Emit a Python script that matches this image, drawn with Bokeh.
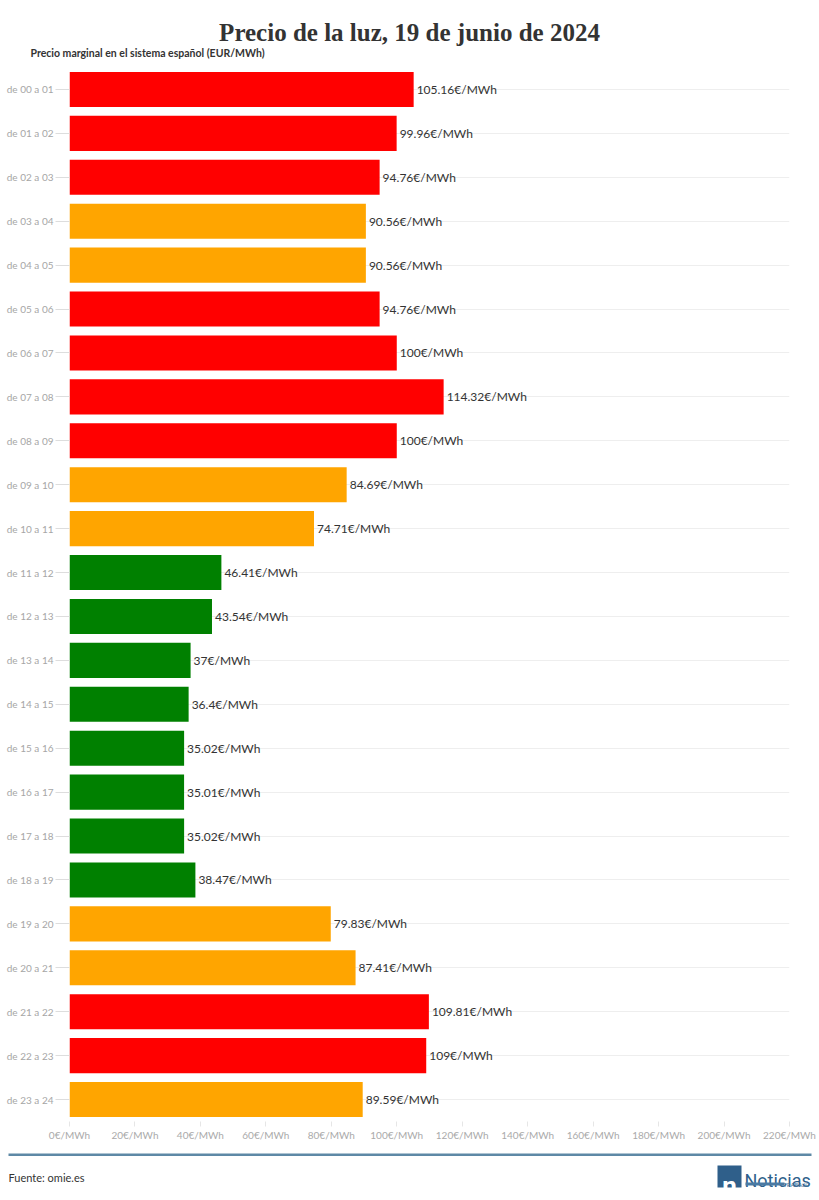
from bokeh.plotting import figure
from bokeh.models import ColumnDataSource, Range1d, FactorRange, FixedTicker, Label, Span, BoxAnnotation
from bokeh.layouts import column
from bokeh.embed import file_html
from bokeh.resources import INLINE
from bokeh.core.properties import value

# ---- data ----
hours = ["de 00 a 01", "de 01 a 02", "de 02 a 03", "de 03 a 04", "de 04 a 05", "de 05 a 06",
         "de 06 a 07", "de 07 a 08", "de 08 a 09", "de 09 a 10", "de 10 a 11", "de 11 a 12",
         "de 12 a 13", "de 13 a 14", "de 14 a 15", "de 15 a 16", "de 16 a 17", "de 17 a 18",
         "de 18 a 19", "de 19 a 20", "de 20 a 21", "de 21 a 22", "de 22 a 23", "de 23 a 24"]
prices = [105.16, 99.96, 94.76, 90.56, 90.56, 94.76, 100, 114.32, 100, 84.69, 74.71, 46.41,
          43.54, 37, 36.4, 35.02, 35.01, 35.02, 38.47, 79.83, 87.41, 109.81, 109, 89.59]
x_ticks = [0, 20, 40, 60, 80, 100, 120, 140, 160, 180, 200, 220]
x_tick_labels = ["0€/MWh", "20€/MWh", "40€/MWh", "60€/MWh", "80€/MWh", "100€/MWh",
                 "120€/MWh", "140€/MWh", "160€/MWh", "180€/MWh", "200€/MWh", "220€/MWh"]

TITLE = "Precio de la luz, 19 de junio de 2024"
SUBTITLE = "Precio marginal en el sistema español (EUR/MWh)"
SOURCE = "Fuente: omie.es"

RED, ORANGE, GREEN = "#ff0000", "#ffa500", "#008000"


def level_color(v):
    if v >= 93:
        return RED
    if v >= 60:
        return ORANGE
    return GREEN


def fmt(v):
    return f"{v:g}€/MWh"


W = 819
HEADER_H = 67
FOOTER_H = 55


def no_align(fig):
    try:
        fig.frame_align = False
    except Exception:
        pass


# ---- header ----
header = figure(width=W, height=HEADER_H, x_range=Range1d(0, W), y_range=Range1d(HEADER_H, 0),
                output_backend="svg", toolbar_location=None, min_border=0,
                x_axis_location=None, y_axis_location=None)
no_align(header)
header.grid.visible = False
header.outline_line_color = None
header.add_layout(Label(x=409, y=32, text=TITLE, text_align="center", text_baseline="alphabetic",
                        text_font="Liberation Serif", text_font_style="bold",
                        text_font_size="25px", text_color="#333333"))
header.add_layout(Label(x=30, y=52, text=SUBTITLE, text_align="left", text_baseline="middle",
                        text_font="Lato", text_font_style="bold",
                        text_font_size="10.5px", text_color="#333333"))

# ---- main chart ----
src = ColumnDataSource(dict(
    hour=hours,
    price=prices,
    color=[level_color(v) for v in prices],
    label=[fmt(v) for v in prices],
))

p = figure(width=W, height=1054 + 24,
           y_range=FactorRange(factors=hours[::-1], range_padding=0),
           x_range=Range1d(0, 220),
           output_backend="svg", toolbar_location=None,
           min_border_left=69, min_border_right=30, min_border_top=0, min_border_bottom=24)
no_align(p)
p.outline_line_color = None

p.hbar(y="hour", left=0, right="price", height=0.8, fill_color="color", line_color=None, source=src)
p.text(x="price", y="hour", text="label", x_offset=3, text_baseline="middle", text_align="left",
       text_font=value("Lato"), text_font_size="12px", text_color="#333333", source=src)

p.xgrid.visible = False
p.ygrid.grid_line_color = "#eeeeee"
p.ygrid.grid_line_width = 1

p.xaxis.ticker = FixedTicker(ticks=x_ticks)
p.xaxis.major_label_overrides = dict(zip(x_ticks, x_tick_labels))
p.xaxis.axis_line_color = None
p.xaxis.major_tick_in = 0
p.xaxis.major_tick_out = 5
p.xaxis.major_tick_line_color = "#e6e6e6"
p.xaxis.minor_tick_line_color = None
p.xaxis.major_label_standoff = 2
p.xaxis.major_label_text_font = "Lato"
p.xaxis.major_label_text_font_size = "10px"
p.xaxis.major_label_text_color = "#aaaaaa"

p.yaxis.axis_line_color = None
p.yaxis.major_tick_in = 0
p.yaxis.major_tick_out = 14
p.yaxis.major_tick_line_color = "#dddddd"
p.yaxis.major_label_standoff = 2
p.yaxis.major_label_text_font = "Lato"
p.yaxis.major_label_text_font_size = "10px"
p.yaxis.major_label_text_color = "#a6a6a6"

# ---- footer ----
footer = figure(width=W, height=FOOTER_H, x_range=Range1d(0, W), y_range=Range1d(FOOTER_H, 0),
                output_backend="svg", toolbar_location=None, min_border=0,
                x_axis_location=None, y_axis_location=None)
no_align(footer)
footer.grid.visible = False
footer.outline_line_color = None
footer.add_layout(BoxAnnotation(left=8, right=811, top=8, bottom=10.5, fill_color="#5e89a6",
                                fill_alpha=1, line_color=None))
footer.add_layout(Label(x=8, y=32, text=SOURCE, text_baseline="middle", text_font="Lato",
                        text_font_size="11px", text_color="#333333"))
# logo
footer.add_layout(BoxAnnotation(left=717, right=741, top=20, bottom=42, fill_color="#2f5f8a",
                                fill_alpha=1, line_color=None))
footer.add_layout(Label(x=729, y=40, text="n", text_align="center", text_baseline="alphabetic",
                        text_font="Roboto", text_font_style="bold", text_font_size="26px",
                        text_color="#ffffff"))
footer.add_layout(Label(x=744, y=35, text="Noticias", text_baseline="alphabetic",
                        text_font="Roboto", text_font_size="18px", text_color="#2f5f8a"))
footer.add_layout(BoxAnnotation(left=745, right=784, top=37, bottom=40, fill_color="#4a7aa3",
                                fill_alpha=1, line_color=None))
footer.add_layout(Label(x=809, y=38.5, text="TRABAJO", text_align="right", text_baseline="middle",
                        text_font="Roboto", text_font_size="6px", text_color="#4a7aa3"))

layout = column(header, p, footer, spacing=0)

with open("out.html", "w") as f:
    f.write(file_html(layout, INLINE))
